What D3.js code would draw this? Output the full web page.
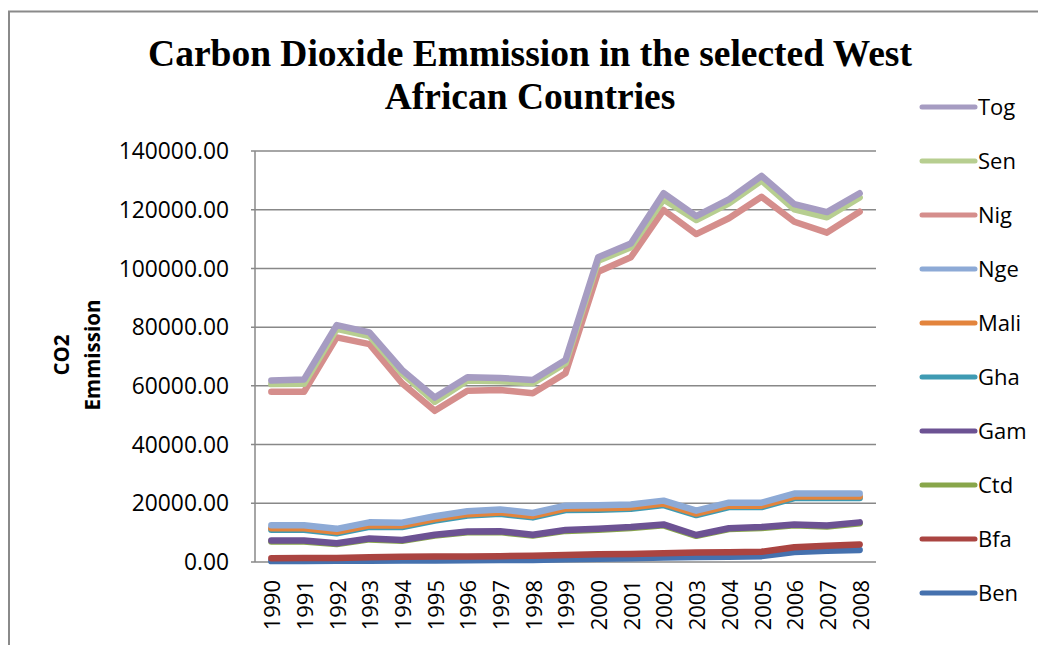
<!DOCTYPE html>
<html>
<head>
<meta charset="utf-8">
<script src="https://cdn.jsdelivr.net/npm/d3@7"></script>
<style>
  html, body { margin: 0; padding: 0; background: #fff; }
  svg { display: block; }
</style>
</head>
<body>
<svg id="chart" width="1038" height="645"></svg>
<script>
const years = ["1990","1991","1992","1993","1994","1995","1996","1997","1998","1999","2000","2001","2002","2003","2004","2005","2006","2007","2008"];
const yTicks = [0, 20000, 40000, 60000, 80000, 100000, 120000, 140000];

const Ben  = [300,350,400,450,500,550,600,650,700,900,1100,1300,1500,1700,1800,2000,3400,3800,4100];
const Bfa  = [1300,1400,1400,1600,1800,1900,1900,2000,2100,2400,2600,2700,3000,3200,3300,3500,5000,5500,6000];
const Ctd  = [7000,7000,6100,7700,7200,9000,10100,10200,9000,10600,11000,11600,12500,8900,11200,11600,12500,12100,13200];
const Gam  = [7300,7300,6400,8000,7500,9300,10400,10500,9300,10900,11300,11900,12800,9200,11500,11900,12800,12400,13500];
const Gha  = [11000,11000,9800,12000,11900,14100,15800,16400,15200,17700,17800,18100,19400,16000,18700,18700,21800,21800,21800];
const Mali = [11500,11500,10300,12500,12400,14600,16300,16900,15700,18200,18300,18600,19900,16500,19200,19200,22300,22300,22300];
const Nge  = [12500,12500,11300,13500,13400,15600,17300,17900,16700,19200,19300,19600,20900,17500,20200,20200,23300,23300,23300];
const Nig  = [58000,58000,76500,74200,60900,51500,58300,58600,57500,64300,98900,103800,119900,111700,117100,124400,115900,112200,119300];
const Sen  = [60600,60700,79400,77000,64300,54600,61800,61600,60900,67700,102600,107200,123500,116500,122200,129900,120100,117400,124200];
const Tog  = [61800,62200,80700,78200,65400,56000,62900,62700,62000,68800,103800,108500,125600,117800,123500,131500,121900,119200,125600];

const seriesNames = ["Ben","Bfa","Ctd","Gam","Gha","Mali","Nge","Nig","Sen","Tog"];
const seriesValues = [Ben,Bfa,Ctd,Gam,Gha,Mali,Nge,Nig,Sen,Tog];
const seriesColors = ["#4571AE","#AA4441","#88A64A","#6C5293","#3F9BB3","#E3843C","#8DAAD6","#D58E8C","#B7CE90","#A69CC2"];

const titleLines = ["Carbon Dioxide Emmission in the selected West", "African Countries"];
const yTitleLines = ["CO2", "Emmission"];

const svg = d3.select("#chart");

// outer border (left and top)
svg.append("path")
  .attr("d", d3.line()([[9, 645], [9, 11.5], [1038, 11.5]]))
  .attr("fill", "none").attr("stroke", "#8a8a8a").attr("stroke-width", 2);

const x = d3.scaleBand().domain(years).range([255, 876]).padding(0);
const y = d3.scaleLinear().domain([0, 140000]).range([562, 151]);

// gridlines
const grid = svg.append("g");
grid.selectAll("line").data(yTicks).join("line")
  .attr("x1", 251).attr("x2", 876)
  .attr("y1", d => y(d)).attr("y2", d => y(d))
  .attr("stroke", "#888").attr("stroke-width", 1.5);

// left axis line
svg.append("line").attr("x1", 255).attr("x2", 255).attr("y1", y(140000)).attr("y2", y(0))
  .attr("stroke", "#888").attr("stroke-width", 1.5);

// y tick labels
const fmt = d3.format(".2f");
svg.append("g").selectAll("text").data(yTicks).join("text")
  .attr("x", 229).attr("y", d => y(d)).attr("dy", "0.36em")
  .attr("text-anchor", "end")
  .attr("font-family", "'Open Sans', sans-serif").attr("font-size", 22.8)
  .attr("fill", "#000")
  .text(d => fmt(d));

// x tick labels
svg.append("g").selectAll("text").data(years).join("text")
  .attr("transform", d => `translate(${x(d) + x.bandwidth() / 2 + 1},580) rotate(-90)`)
  .attr("dy", "0.36em")
  .attr("text-anchor", "end")
  .attr("font-family", "'Open Sans', sans-serif").attr("font-size", 22)
  .attr("fill", "#000")
  .text(d => d);

// lines
const line = d3.line()
  .x((d, i) => x(years[i]) + x.bandwidth() / 2)
  .y(d => y(d));

svg.append("g").selectAll("path").data(seriesValues).join("path")
  .attr("d", d => line(d))
  .attr("fill", "none")
  .attr("stroke", (d, i) => seriesColors[i])
  .attr("stroke-width", 6.5)
  .attr("stroke-linejoin", "round")
  .attr("stroke-linecap", "round");

// title
svg.append("text")
  .attr("x", 530).attr("text-anchor", "middle")
  .attr("font-family", "'Liberation Serif', 'Times New Roman', serif")
  .attr("font-weight", "bold").attr("font-size", 37.5)
  .attr("fill", "#000")
  .selectAll("tspan").data(titleLines).join("tspan")
  .attr("x", 530).attr("y", (d, i) => 66 + i * 43)
  .text(d => d);

// y axis title
svg.append("g").attr("transform", "translate(0,355) rotate(-90)")
  .selectAll("text").data(yTitleLines).join("text")
  .attr("x", 0).attr("y", (d, i) => 62 + i * 31).attr("dy", "0.36em")
  .attr("text-anchor", "middle")
  .attr("font-family", "'Open Sans', sans-serif").attr("font-weight", "bold").attr("font-size", 20.5)
  .attr("fill", "#000")
  .text(d => d);

// legend (reverse order: Tog on top)
const legendOrder = d3.range(seriesNames.length).reverse();
const lg = svg.append("g").selectAll("g").data(legendOrder).join("g")
  .attr("transform", (d, k) => `translate(0,${107 + k * 54})`);
lg.append("line")
  .attr("x1", 922).attr("x2", 975).attr("y1", 0).attr("y2", 0)
  .attr("stroke", d => seriesColors[d]).attr("stroke-width", 5)
  .attr("stroke-linecap", "round");
lg.append("text")
  .attr("x", 978).attr("y", 0).attr("dy", "0.36em")
  .attr("font-family", "'Open Sans', sans-serif").attr("font-size", 22)
  .attr("fill", "#000")
  .text(d => seriesNames[d]);
</script>
</body>
</html>
